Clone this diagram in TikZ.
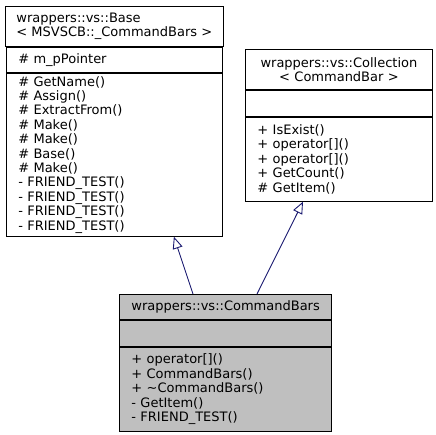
\documentclass[tikz,border=0pt]{standalone}
\usepackage{fontspec}
\setmainfont{DejaVu Sans}
\usepackage{xcolor}
\usepackage{tikz}
\usetikzlibrary{positioning}
\usetikzlibrary{arrows.meta}
\definecolor{edgeblue}{HTML}{191970}
\definecolor{curgray}{HTML}{BFBFBF}
\tikzset{
  umlpart/.style={draw=black, line width=0.9pt, fill=white, inner xsep=12pt, inner ysep=0pt,
    font=\fontsize{13}{14.4}\selectfont, align=left},
  inherit/.style={draw=edgeblue, line width=0.9pt, -{Triangle[open, length=12pt, width=10pt]}}
}
\def\basew{216}
\def\collw{187}
\def\cbw{212}

\begin{document}
\begin{tikzpicture}[x=1pt, y=-1pt, node distance=0pt]
		\useasboundingbox (0,0) rectangle (436,435);
		% base class
		\node[umlpart, anchor=north west, minimum width=\basew pt, minimum height=40pt, inner xsep=11pt] (baseTitle) at (5,6)
			{wrappers::vs::Base\\< MSVSCB::\_CommandBars >};
		\node[umlpart, below=of baseTitle, text width=\basew pt-24pt, minimum height=25pt] (baseAttrs)
			{\# m\_pPointer};
		\node[umlpart, below=of baseAttrs, text width=\basew pt-24pt, minimum height=163pt] (baseMethods)
			{\# GetName()\\\# Assign()\\\# ExtractFrom()\\\# Make()\\\# Make()\\\# Base()\\\# Make()\\- FRIEND\_TEST()\\- FRIEND\_TEST()\\- FRIEND\_TEST()\\- FRIEND\_TEST()};
		% collection template
		\node[umlpart, anchor=north west, text width=\collw pt-24pt, minimum height=40pt, align=center] (collTitle) at (245,49)
			{wrappers::vs::Collection\\< CommandBar >};
		\node[umlpart, below=of collTitle, text width=\collw pt-24pt, minimum height=26pt] (collAttrs) {};
		\node[umlpart, below=of collAttrs, text width=\collw pt-24pt, minimum height=84pt] (collMethods)
			{+ IsExist()\\+ operator[]()\\+ operator[]()\\+ GetCount()\\\# GetItem()};
		% derived class
		\node[umlpart, fill=curgray, anchor=north west, text width=\cbw pt-24pt, minimum height=25pt, align=center] (cbTitle) at (119,294)
			{wrappers::vs::CommandBars};
		\node[umlpart, fill=curgray, below=of cbTitle, text width=\cbw pt-24pt, minimum height=26pt] (cbAttrs) {};
		\node[umlpart, fill=curgray, below=of cbAttrs, text width=\cbw pt-24pt, minimum height=84pt] (cbMethods)
			{+ operator[]()\\+ CommandBars()\\+ \textasciitilde CommandBars()\\- GetItem()\\- FRIEND\_TEST()};
		% inheritance
		\draw[inherit] ([xshift=74pt]cbTitle.north west) -- ([xshift=168pt]baseMethods.south west);
		\draw[inherit] ([xshift=138pt]cbTitle.north west) -- ([xshift=58pt]collMethods.south west);
	\end{tikzpicture}
\end{document}
